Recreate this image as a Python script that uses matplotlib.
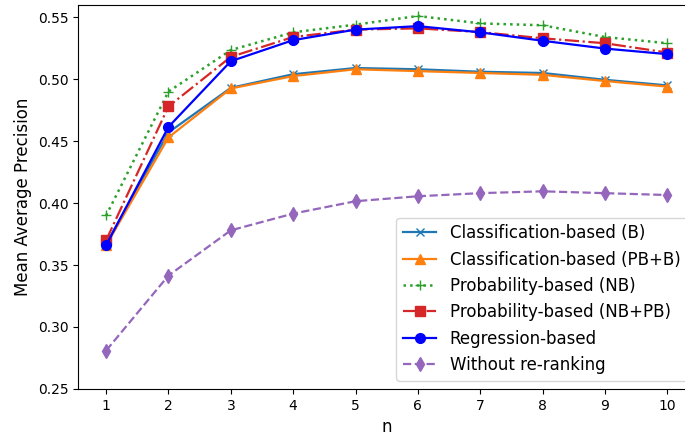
import matplotlib
matplotlib.use("Agg")
import matplotlib.pyplot as plt

n_values = [1, 2, 3, 4, 5, 6, 7, 8, 9, 10]
cls_b = [0.367, 0.457, 0.493, 0.504, 0.509, 0.508, 0.506, 0.505, 0.4995, 0.495]
cls_pb_b = [0.366, 0.453, 0.4925, 0.5025, 0.508, 0.5065, 0.505, 0.5035, 0.4985, 0.494]
prob_nb = [0.390, 0.490, 0.5235, 0.5378, 0.544, 0.551, 0.545, 0.5435, 0.534, 0.529]
prob_nb_pb = [0.370, 0.478, 0.518, 0.534, 0.540, 0.541, 0.538, 0.533, 0.529, 0.5215]
regression = [0.366, 0.4615, 0.5145, 0.5315, 0.540, 0.5428, 0.5378, 0.531, 0.5247, 0.5202]
no_rerank = [0.281, 0.3415, 0.378, 0.3915, 0.4015, 0.4055, 0.408, 0.4095, 0.408, 0.4065]

fig = plt.figure(figsize=(6.85, 4.38), dpi=100)
ax = fig.add_axes([0.114, 0.112, 0.901, 0.877])

ax.plot(n_values, cls_b, color="tab:blue", marker="x", linestyle="-", linewidth=1.6,
        markersize=6, label="Classification-based (B)")
ax.plot(n_values, cls_pb_b, color="tab:orange", marker="^", linestyle="-", linewidth=1.6,
        markersize=7, label="Classification-based (PB+B)")
ax.plot(n_values, prob_nb, color="tab:green", marker="+", linestyle=":", linewidth=1.8,
        markersize=7, label="Probability-based (NB)")
ax.plot(n_values, prob_nb_pb, color="tab:red", marker="s", linestyle="-.", linewidth=1.6,
        markersize=6.5, label="Probability-based (NB+PB)")
ax.plot(n_values, regression, color="blue", marker="o", linestyle="-", linewidth=1.6,
        markersize=7, label="Regression-based")
ax.plot(n_values, no_rerank, color="tab:purple", marker="d", linestyle="--", linewidth=1.6,
        markersize=7.5, label="Without re-ranking")

ax.set_xlim(0.55, 10.45)
ax.set_ylim(0.25, 0.56)
ax.set_xticks(n_values)
ax.set_yticks([0.25, 0.30, 0.35, 0.40, 0.45, 0.50, 0.55])
ax.tick_params(labelsize=10)
ax.set_xlabel("n", fontsize=12)
ax.set_ylabel("Mean Average Precision", fontsize=12)
ax.legend(loc="lower right", fontsize=12, labelspacing=0.5)

fig.savefig("out.png", dpi=100)
